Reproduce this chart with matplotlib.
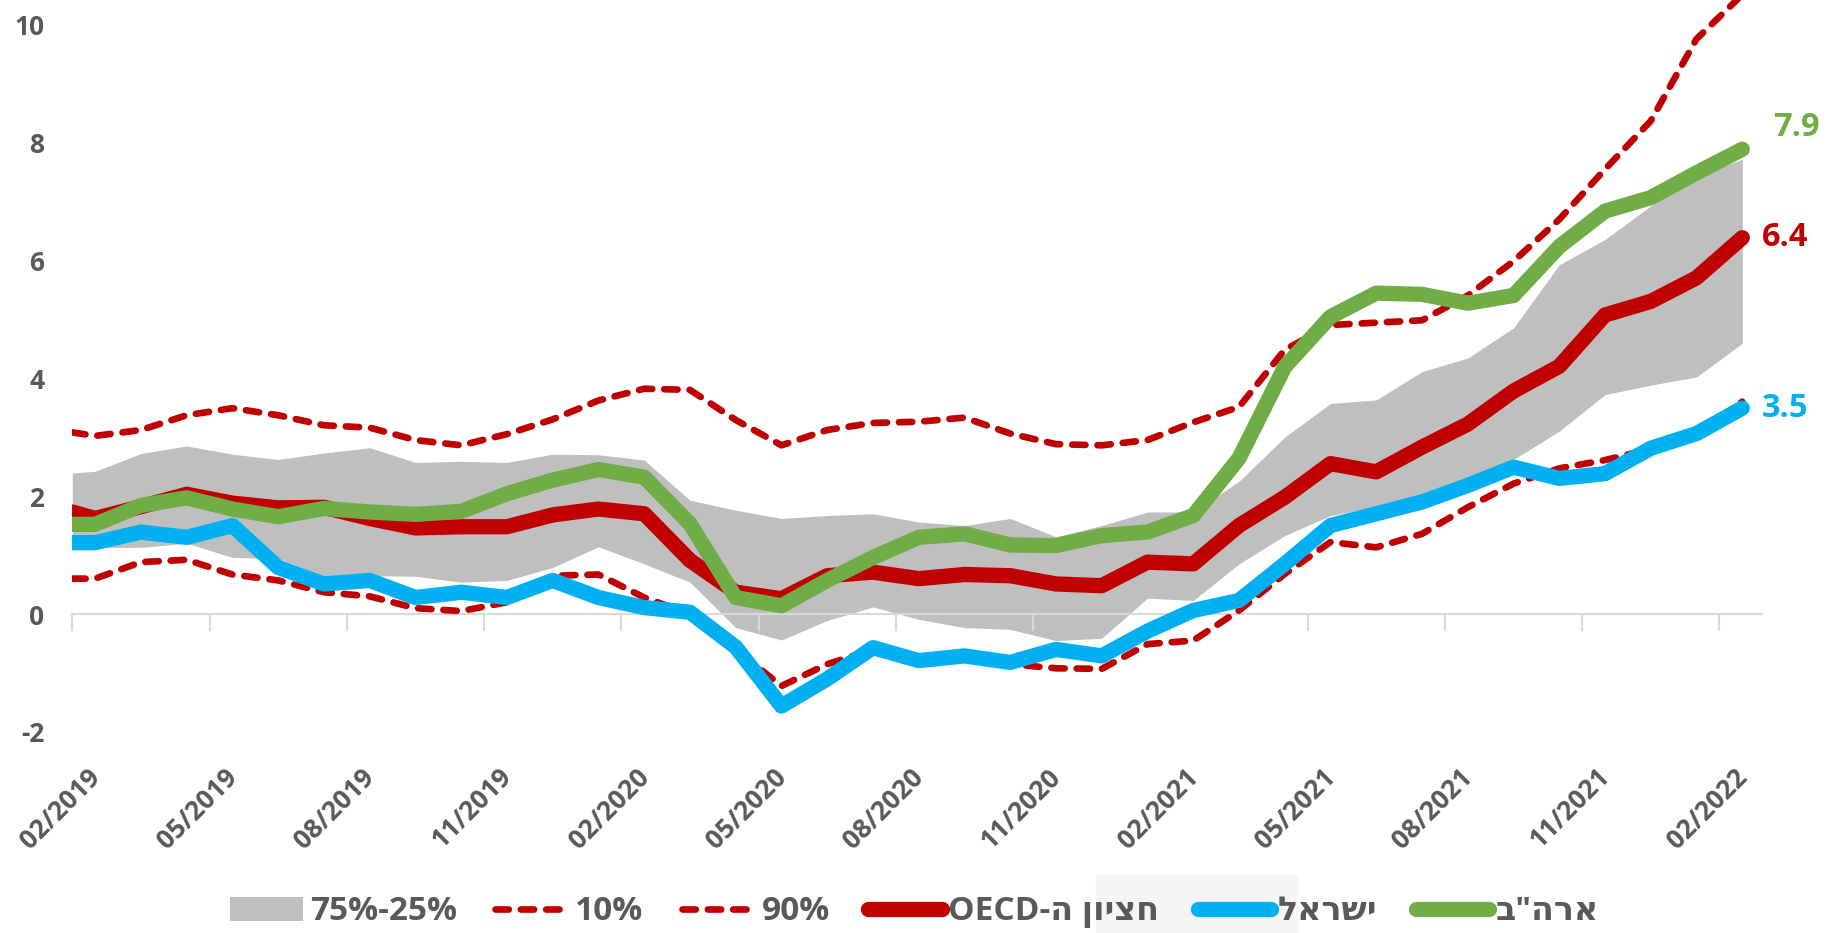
import numpy as np
import matplotlib.pyplot as plt
from matplotlib.lines import Line2D
from matplotlib.patches import Patch, Rectangle
from matplotlib.transforms import ScaledTranslation, blended_transform_factory

plt.rcParams['font.family'] = ['Open Sans', 'DejaVu Sans']
plt.rcParams['font.weight'] = 'bold'
plt.rcParams['axes.unicode_minus'] = False

tick_labels = ['02/2019', '05/2019', '08/2019', '11/2019', '02/2020', '05/2020', '08/2020',
               '11/2020', '02/2021', '05/2021', '08/2021', '11/2021', '02/2022']

# monthly inflation, % yoy
israel = [1.21, 1.21, 1.39, 1.30, 1.50, 0.79, 0.51, 0.57, 0.28, 0.37, 0.28, 0.57, 0.28,
          0.11, 0.03, -0.56, -1.56, -1.10, -0.57, -0.79, -0.71, -0.82, -0.60, -0.71, -0.29,
          0.06, 0.23, 0.85, 1.50, 1.70, 1.90, 2.18, 2.49, 2.30, 2.38, 2.81, 3.06, 3.49]
oecd_median = [1.73, 1.62, 1.82, 2.03, 1.88, 1.80, 1.81, 1.62, 1.46, 1.48, 1.48, 1.68, 1.78,
               1.70, 0.91, 0.37, 0.26, 0.65, 0.71, 0.60, 0.67, 0.65, 0.51, 0.48, 0.88,
               0.85, 1.50, 1.98, 2.55, 2.41, 2.83, 3.22, 3.78, 4.20, 5.07, 5.30, 5.70, 6.38]
usa = [1.52, 1.52, 1.84, 1.97, 1.78, 1.65, 1.79, 1.73, 1.69, 1.74, 2.04, 2.27, 2.45,
       2.32, 1.53, 0.28, 0.14, 0.57, 0.96, 1.30, 1.36, 1.17, 1.16, 1.33, 1.39,
       1.67, 2.64, 4.19, 5.04, 5.44, 5.42, 5.27, 5.40, 6.23, 6.83, 7.06, 7.48, 7.88]
p25 = [1.13, 1.13, 1.13, 1.20, 0.96, 0.94, 0.65, 0.65, 0.64, 0.54, 0.57, 0.79, 1.14,
       0.85, 0.54, -0.23, -0.44, -0.11, 0.12, -0.09, -0.23, -0.26, -0.45, -0.41, 0.27,
       0.23, 0.85, 1.33, 1.67, 1.82, 1.98, 2.30, 2.62, 3.10, 3.72, 3.88, 4.02, 4.59]
p75 = [2.39, 2.42, 2.72, 2.85, 2.71, 2.62, 2.73, 2.82, 2.57, 2.59, 2.57, 2.71, 2.70,
       2.61, 1.93, 1.76, 1.62, 1.67, 1.70, 1.56, 1.50, 1.62, 1.31, 1.50, 1.73,
       1.73, 2.25, 3.00, 3.57, 3.63, 4.11, 4.34, 4.85, 5.92, 6.35, 6.92, 7.43, 7.71]
p10 = [0.60, 0.60, 0.88, 0.92, 0.67, 0.57, 0.37, 0.30, 0.10, 0.05, 0.20, 0.65, 0.67,
       0.28, 0.00, -0.60, -1.22, -0.85, -0.60, -0.78, -0.72, -0.85, -0.92, -0.93, -0.51,
       -0.45, 0.06, 0.68, 1.22, 1.13, 1.36, 1.81, 2.21, 2.47, 2.61, 2.80, 3.05, 3.60]
p90 = [3.08, 3.02, 3.12, 3.37, 3.49, 3.37, 3.20, 3.16, 2.95, 2.86, 3.05, 3.30, 3.62,
       3.82, 3.80, 3.29, 2.86, 3.12, 3.24, 3.26, 3.33, 3.06, 2.88, 2.86, 2.95,
       3.25, 3.51, 4.48, 4.90, 4.94, 4.98, 5.40, 5.98, 6.69, 7.54, 8.36, 9.75, 10.50]

# hebrew is written in visual order (matplotlib does no bidi reordering)
legend_labels = ['75%-25%', '10%', '90%', 'OECD-ה ןויצח', 'לארשי', 'ב"הרא']

RED = '#C00000'
BLUE = '#00B0F0'
GREEN = '#70AD47'
GREY = '#BFBFBF'
TEXT = '#595959'

fig = plt.figure(figsize=(18.29, 9.33), dpi=100)
ax = fig.add_axes([72.3 / 1829, 1 - 732 / 933, (1761.5 - 72.3) / 1829, 732 / 933])

# first point sits on the axis start, the rest at mid-month
x = np.r_[0, np.arange(len(israel) - 1) + 0.5]

ax.fill_between(x, p25, p75, color=GREY, lw=0, zorder=1)
dash = dict(color=RED, lw=4.8, dashes=(2.0, 1.8), dash_capstyle='round')
ax.plot(x, p10, **dash)
ax.plot(x, p90, **dash)
thick = dict(lw=11, solid_capstyle='round', solid_joinstyle='round')
ax.plot(x, oecd_median, color=RED, **thick)
ax.plot(x, israel, color=BLUE, **thick)
ax.plot(x, usa, color=GREEN, **thick)

for vals, color, dx, dy in [(usa, GREEN, 22, 16), (oecd_median, RED, 14, 0), (israel, BLUE, 14, 0)]:
    ax.annotate(f'{vals[-1]:.1f}', (x[-1], vals[-1]), xytext=(dx, dy), textcoords='offset points',
                ha='left', va='center', color=color, fontsize=23.5, fontweight='bold',
                annotation_clip=False)

ax.set_xlim(0, 36.92)
ax.set_ylim(-2, 10.41)
for s in ['top', 'right', 'left']:
    ax.spines[s].set_visible(False)
ax.spines['bottom'].set_position(('data', 0))
ax.spines['bottom'].set_color('#D9D9D9')
ax.spines['bottom'].set_linewidth(1.5)
ax.spines['bottom'].set_zorder(1.5)

ticks = np.arange(0, 37, 3)
ax.set_xticks(ticks)
ax.tick_params(axis='x', length=12, width=1.5, color='#D9D9D9', labelbottom=False, direction='out')
ax.set_yticks(range(-2, 11, 2))
ax.tick_params(axis='y', length=0, pad=20, labelsize=19, labelcolor=TEXT)

trans = blended_transform_factory(ax.transData, ax.transAxes) + \
    ScaledTranslation(29 / 100, -46 / 100, fig.dpi_scale_trans)
for t, lab in zip(ticks, tick_labels):
    ax.text(t, 0, lab, transform=trans, rotation=45, rotation_mode='anchor',
            ha='right', va='baseline', fontsize=19, color=TEXT, fontweight='bold')

handles = [Patch(facecolor=GREY, edgecolor='none'),
           Line2D([], [], **dash),
           Line2D([], [], **dash),
           Line2D([], [], color=RED, **thick),
           Line2D([], [], color=BLUE, **thick),
           Line2D([], [], color=GREEN, **thick)]
fig.legend(handles, legend_labels, loc='center', bbox_to_anchor=(914.5 / 1829, 1 - 912 / 933),
           ncol=6, frameon=False, fontsize=24, handlelength=2.2, handleheight=0.75,
           handletextpad=0.2, columnspacing=1.15, labelcolor=TEXT, borderpad=0.1)

fig.patches.append(Rectangle((1096 / 1829, 0), (1297 - 1096) / 1829, (933 - 875) / 933,
                             transform=fig.transFigure, color='#F5F5F5', zorder=0))

fig.savefig('out.png', dpi=100)
